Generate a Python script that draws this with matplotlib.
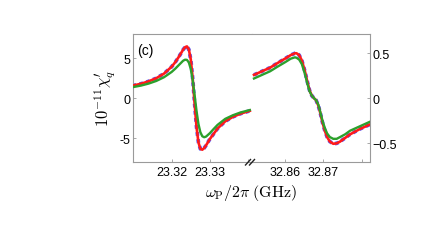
import matplotlib
matplotlib.use("Agg")
import matplotlib.pyplot as plt
from matplotlib.lines import Line2D

plt.rcParams['mathtext.fontset'] = 'cm'
plt.rcParams['font.family'] = ['Liberation Sans', 'DejaVu Sans']

# ---- left segment (near 23.33 GHz), left axis units ----
x_left = [23.3098, 23.312, 23.314, 23.316, 23.318, 23.320, 23.321, 23.322, 23.323,
          23.3235, 23.324, 23.3245, 23.325, 23.3255, 23.326, 23.3265, 23.327, 23.3275,
          23.328, 23.3285, 23.329, 23.330, 23.331, 23.332, 23.334, 23.336, 23.338, 23.3404]
red_left = [1.59, 1.83, 2.13, 2.52, 3.09, 3.95, 4.55, 5.28, 6.08,
            6.39, 6.49, 6.11, 4.86, 2.50, -0.65, -3.58, -5.49, -6.30,
            -6.40, -6.20, -5.85, -5.05, -4.40, -3.75, -2.85, -2.30, -1.90, -1.55]
green_left = [1.40, 1.60, 1.85, 2.18, 2.64, 3.30, 3.73, 4.22, 4.70,
              4.83, 4.81, 4.48, 3.67, 2.28, 0.40, -1.57, -3.19, -4.22,
              -4.72, -4.85, -4.76, -4.33, -3.80, -3.30, -2.55, -2.10, -1.75, -1.45]
blue_left = red_left

# ---- right segment (near 32.87 GHz), right axis units ----
x_right = [32.8519, 32.854, 32.8561, 32.858, 32.860, 32.8615, 32.8626, 32.8630,
           32.8637, 32.8644, 32.8652, 32.8658, 32.8664, 32.8670, 32.8676, 32.8681,
           32.8687, 32.8692, 32.8698, 32.8704, 32.8710, 32.8717, 32.8726, 32.8735,
           32.8744, 32.8757, 32.8770, 32.8796, 32.8822]
red_right = [0.26, 0.30, 0.34, 0.39, 0.44, 0.48, 0.50, 0.50,
             0.48, 0.42, 0.30, 0.19, 0.09, 0.03, 0.00, -0.02,
             -0.08, -0.16, -0.27, -0.36, -0.43, -0.48, -0.505, -0.50,
             -0.48, -0.44, -0.40, -0.34, -0.29]
green_right = [0.22, 0.26, 0.30, 0.35, 0.40, 0.44, 0.455, 0.45,
               0.43, 0.38, 0.27, 0.17, 0.08, 0.03, 0.00, -0.02,
               -0.07, -0.15, -0.25, -0.33, -0.39, -0.43, -0.45, -0.45,
               -0.43, -0.40, -0.36, -0.31, -0.26]
blue_right = red_right

left_xticks = [23.32, 23.33, 23.34]
left_xticklabels = ["23.32", "23.33", ""]
right_xticks = [32.86, 32.87, 32.88]
right_xticklabels = ["32.86", "32.87", ""]
left_yticks = [-5, 0, 5]
left_yticklabels = ["-5", "0", "5"]
right_yticks = [-0.5, 0, 0.5]
right_yticklabels = ["\u22120.5", "0", "0.5"]

W, H = 436, 251
fig = plt.figure(figsize=(W / 100, H / 100), dpi=100)

def fr(x0, y0, x1, y1):
    return [x0 / W, 1 - y1 / H, (x1 - x0) / W, (y1 - y0) / H]

axL = fig.add_axes(fr(132.5, 35, 252, 162.7))
axR = fig.add_axes(fr(252, 35, 370, 162.7))

spine_c = '#9a9a9a'
blue_c = '#4f5bff'
red_c = '#ff1a1a'
green_c = '#2ca02c'

for ax, xs, b, r, g in [(axL, x_left, blue_left, red_left, green_left),
                        (axR, x_right, blue_right, red_right, green_right)]:
    ax.plot(xs, b, color=blue_c, lw=2.7, ls=(0, (1.0, 0.9)), zorder=2)
    ax.plot(xs, r, color=red_c, lw=1.9, zorder=3)
    ax.plot(xs, g, color=green_c, lw=1.7, zorder=4)
    for s in ax.spines.values():
        s.set_color(spine_c)
        s.set_linewidth(0.8)
    ax.tick_params(direction='in', length=2.5, width=0.6, color=spine_c,
                   labelsize=9, pad=1.5)

axL.set_xlim(23.3098, 23.34097)
axL.set_ylim(-7.9, 8.04)
axR.set_xlim(32.85138, 32.8822)
axR.set_ylim(-0.704, 0.714)

axL.spines['right'].set_visible(False)
axR.spines['left'].set_visible(False)

axL.set_xticks(left_xticks)
axL.set_xticklabels(left_xticklabels)
axR.set_xticks(right_xticks)
axR.set_xticklabels(right_xticklabels)
axL.set_yticks(left_yticks)
axL.set_yticklabels(left_yticklabels)
axR.set_yticks(right_yticks)
axR.set_yticklabels(right_yticklabels)
axR.yaxis.tick_right()
axL.tick_params(axis='x', pad=3)
axR.tick_params(axis='x', pad=3)

axL.set_ylabel(r"$10^{-11}\chi_q'$", fontsize=12, labelpad=2)
fig.text(251 / W, 1 - 193 / H, r"$\omega_{\rm P}/2\pi\;({\rm GHz})$",
         fontsize=11.5, ha='center', va='center')
axL.text(0.04, 0.93, "(c)", transform=axL.transAxes, fontsize=10,
         ha='left', va='top')

# axis break mark "//"
for cx in (248.0, 252.0):
    fig.add_artist(Line2D([(cx - 2.5) / W, (cx + 2.5) / W],
                          [1 - 166.0 / H, 1 - 160.5 / H],
                          transform=fig.transFigure, color='#222222', lw=1.0))

fig.savefig("out.png", dpi=100)
